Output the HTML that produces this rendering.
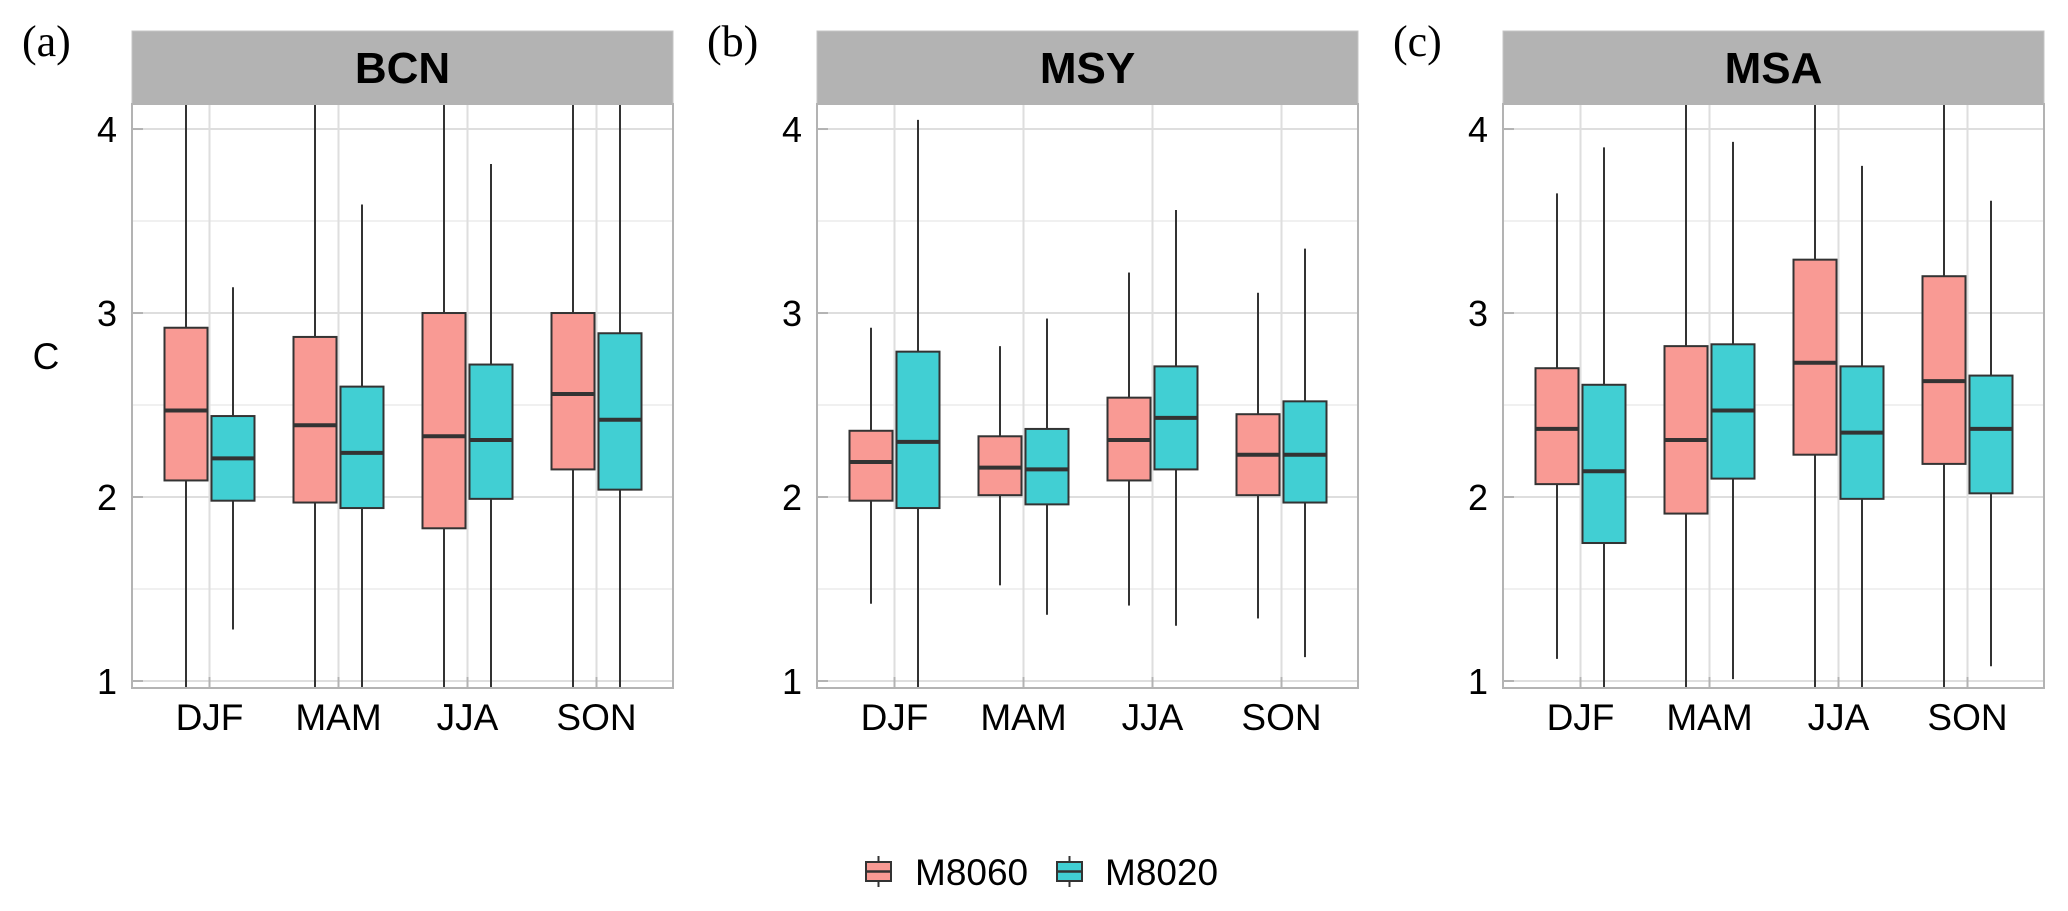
<!DOCTYPE html>
<html><head><meta charset="utf-8"><style>
html,body{margin:0;padding:0;background:#fff;}
svg{display:block;}
text{font-family:"Liberation Sans",sans-serif;}
text.serif{font-family:"Liberation Serif",serif;}
</style></head><body>
<svg id="chart" width="2068" height="911" viewBox="0 0 2068 911" xmlns="http://www.w3.org/2000/svg">
<g id="root"></g>
</svg>
<script>
const panels = ["BCN","MSY","MSA"];
const panelTags = ["(a)","(b)","(c)"];
const seasons = ["DJF","MAM","JJA","SON"];
const series = ["M8060","M8020"];
const yTicks = [1,2,3,4];
// [whiskerHigh, q3, median, q1, whiskerLow] per season; values beyond the axis range run to the panel edge
const bcnM8060 = [[4.5,2.92,2.47,2.09,0.9],[4.5,2.87,2.39,1.97,0.9],[4.5,3.00,2.33,1.83,0.9],[4.5,3.00,2.56,2.15,0.9]];
const bcnM8020 = [[3.14,2.44,2.21,1.98,1.28],[3.59,2.60,2.24,1.94,0.9],[3.81,2.72,2.31,1.99,0.9],[4.5,2.89,2.42,2.04,0.9]];
const msyM8060 = [[2.92,2.36,2.19,1.98,1.42],[2.82,2.33,2.16,2.01,1.52],[3.22,2.54,2.31,2.09,1.41],[3.11,2.45,2.23,2.01,1.34]];
const msyM8020 = [[4.05,2.79,2.30,1.94,0.9],[2.97,2.37,2.15,1.96,1.36],[3.56,2.71,2.43,2.15,1.30],[3.35,2.52,2.23,1.97,1.13]];
const msaM8060 = [[3.65,2.70,2.37,2.07,1.12],[4.5,2.82,2.31,1.91,0.9],[4.5,3.29,2.73,2.23,0.9],[4.5,3.20,2.63,2.18,0.9]];
const msaM8020 = [[3.90,2.61,2.14,1.75,0.9],[3.93,2.83,2.47,2.10,1.01],[3.80,2.71,2.35,1.99,0.9],[3.61,2.66,2.37,2.02,1.08]];
const panelData = [[bcnM8060,bcnM8020],[msyM8060,msyM8020],[msaM8060,msaM8020]];

const NS="http://www.w3.org/2000/svg";
const root=document.getElementById('root');
function mk(tag,attrs,parent){const e=document.createElementNS(NS,tag);for(const k in attrs)e.setAttribute(k,attrs[k]);(parent||root).appendChild(e);return e;}
const fills=["#f99a94","#41cfd3"];
const panelLeft=[132,817,1503], panelW=541, plotTop=104, plotBottom=688, stripTop=31;
const yMin=0.962, yMax=4.136;
function ys(v){v=Math.max(yMin,Math.min(yMax,v));return plotBottom-(v-yMin)/(yMax-yMin)*(plotBottom-plotTop);}
const step=129, firstOff=77.5, dodge=23.5, boxW=43;

panels.forEach((pn,pi)=>{
  const L=panelLeft[pi];
  const g=mk('g',{});
  
  
  const xs=i=>L+firstOff+i*step;
  const st=mk('rect',{x:L,y:stripTop,width:panelW,height:plotTop-stripTop,fill:'#b3b3b3',stroke:'#c4c4c4','stroke-width':1},g);
  
  
  const stt=mk('text',{x:L+panelW/2,y:83,'text-anchor':'middle','font-size':44,'font-weight':'bold',fill:'#000'},g);
  stt.textContent=pn;
  
  
  const tag=mk('text',{x:L-110,y:56,'font-size':44,fill:'#000','class':'serif'},g);
  tag.textContent=panelTags[pi];
  
  
  mk('rect',{x:L,y:plotTop,width:panelW,height:plotBottom-plotTop,fill:'#fff'},g);
  [1.5,2.5,3.5].forEach(v=>mk('line',{x1:L,x2:L+panelW,y1:ys(v),y2:ys(v),stroke:'#ececec','stroke-width':1.5},g));
  yTicks.forEach(v=>mk('line',{x1:L,x2:L+panelW,y1:ys(v),y2:ys(v),stroke:'#dedede','stroke-width':2},g));
  seasons.forEach((s,i)=>mk('line',{x1:xs(i),x2:xs(i),y1:plotTop,y2:plotBottom,stroke:'#dedede','stroke-width':2},g));
  yTicks.forEach(v=>{
    mk('line',{x1:L,x2:L+11,y1:ys(v),y2:ys(v),stroke:'#b3b3b3','stroke-width':2},g);
    const t=mk('text',{x:L-15,y:ys(v)+13,'text-anchor':'end','font-size':36,fill:'#000'},g);
    t.textContent=v;
    
    
  });
  seasons.forEach((s,i)=>{
    mk('line',{x1:xs(i),x2:xs(i),y1:plotBottom-11,y2:plotBottom,stroke:'#b3b3b3','stroke-width':2},g);
    const t=mk('text',{x:xs(i),y:730,'text-anchor':'middle','font-size':37,fill:'#000'},g);
    t.textContent=s;
    
    
  });
  panelData[pi].forEach((ser,si)=>{
    ser.forEach((d,i)=>{
      const cx=xs(i)+(si===0?-dodge:dodge);
      const bg=mk('g',{},g);
      
      
      mk('line',{x1:cx,x2:cx,y1:ys(d[0]),y2:ys(d[1]),stroke:'#333','stroke-width':2},bg);
      mk('line',{x1:cx,x2:cx,y1:ys(d[3]),y2:ys(d[4]),stroke:'#333','stroke-width':2},bg);
      mk('rect',{x:cx-boxW/2,y:ys(d[1]),width:boxW,height:ys(d[3])-ys(d[1]),fill:fills[si],stroke:'#333','stroke-width':2},bg);
      mk('line',{x1:cx-boxW/2,x2:cx+boxW/2,y1:ys(d[2]),y2:ys(d[2]),stroke:'#333','stroke-width':4},bg);
    });
  });
  const br=mk('rect',{x:L,y:plotTop,width:panelW,height:plotBottom-plotTop,fill:'none',stroke:'#b3b3b3','stroke-width':2},g);
  
  
});
const yt=mk('text',{x:46,y:369,'text-anchor':'middle','font-size':37,fill:'#000'});
yt.textContent='C';


const lg=mk('g',{});


const keyX=[866,1057], txtX=[915,1105];
series.forEach((s,si)=>{
  const e=mk('g',{},lg);
  
  
  const cx=keyX[si]+12.5;
  mk('line',{x1:cx,x2:cx,y1:856,y2:887,stroke:'#333','stroke-width':2},e);
  mk('rect',{x:keyX[si],y:862,width:25,height:19,fill:fills[si],stroke:'#333','stroke-width':2},e);
  mk('line',{x1:keyX[si],x2:keyX[si]+25,y1:871.5,y2:871.5,stroke:'#333','stroke-width':2.5},e);
  const t=mk('text',{x:txtX[si],y:885,'font-size':37,fill:'#000'},e);
  t.textContent=s;
});
</script>
</body></html>
